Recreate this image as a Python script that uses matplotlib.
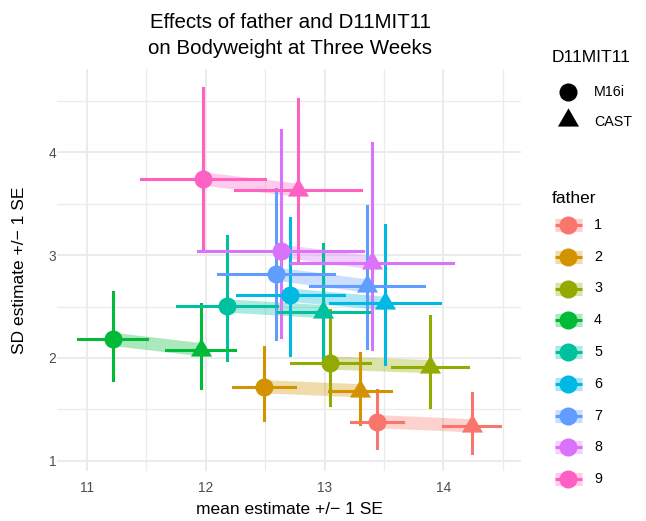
import numpy as np
import matplotlib
matplotlib.use('Agg')
import matplotlib.pyplot as plt

plt.rcParams['font.family'] = ['Liberation Sans', 'DejaVu Sans']

# data (one row per father)
fathers = ['1', '2', '3', '4', '5', '6', '7', '8', '9']
colors = ['#F8766D', '#D39200', '#93AA00', '#00BA38', '#00C19F',
          '#00B9E3', '#619CFF', '#DB72FB', '#FF61C3']

# D11MIT11 = M16i
mean_m16i = [13.44, 12.49, 13.05, 11.22, 12.18, 12.71, 12.59, 12.63, 11.98]
mean_m16i_se = [0.22, 0.26, 0.33, 0.29, 0.42, 0.45, 0.49, 0.69, 0.52]
sd_m16i = [1.38, 1.72, 1.95, 2.18, 2.505, 2.61, 2.815, 3.04, 3.74]
sd_m16i_lo = [1.12, 1.40, 1.54, 1.79, 1.98, 2.03, 2.18, 2.20, 3.04]
sd_m16i_hi = [1.69, 2.11, 2.47, 2.64, 3.19, 3.36, 3.64, 4.22, 4.63]

# D11MIT11 = CAST
mean_cast = [14.24, 13.30, 13.89, 11.96, 12.99, 13.51, 13.355, 13.40, 12.78]
mean_cast_se = [0.24, 0.26, 0.32, 0.29, 0.38, 0.46, 0.48, 0.68, 0.53]
sd_cast = [1.34, 1.68, 1.915, 2.08, 2.45, 2.53, 2.70, 2.925, 3.63]
sd_cast_lo = [1.08, 1.36, 1.52, 1.71, 1.93, 1.94, 2.10, 2.09, 2.93]
sd_cast_hi = [1.66, 2.05, 2.41, 2.52, 3.11, 3.29, 3.48, 4.09, 4.52]

W, H = 646, 521
fig = plt.figure(figsize=(W / 100, H / 100), dpi=100)
ax = fig.add_axes([57.0 / W, 1 - 470.5 / H, 463.7 / W, 401.5 / H])

# triangle centred like ggplot's shape 17
tri = [(0, 2 / 3), (-1 / np.sqrt(3), -1 / 3), (1 / np.sqrt(3), -1 / 3)]

# shaded band joining the two genotypes
for i in range(len(fathers)):
    ax.plot([mean_m16i[i], mean_cast[i]], [sd_m16i[i], sd_cast[i]],
            color=colors[i], alpha=0.33, lw=9.5, solid_capstyle='butt', zorder=2)

lw = 2.2
for i in range(len(fathers)):
    c = colors[i]
    ax.plot([mean_m16i[i], mean_m16i[i]], [sd_m16i_lo[i], sd_m16i_hi[i]], color=c, lw=lw, zorder=3)
    ax.plot([mean_cast[i], mean_cast[i]], [sd_cast_lo[i], sd_cast_hi[i]], color=c, lw=lw, zorder=3)
for i in range(len(fathers)):
    c = colors[i]
    ax.plot([mean_m16i[i] - mean_m16i_se[i], mean_m16i[i] + mean_m16i_se[i]],
            [sd_m16i[i], sd_m16i[i]], color=c, lw=lw, zorder=4)
    ax.plot([mean_cast[i] - mean_cast_se[i], mean_cast[i] + mean_cast_se[i]],
            [sd_cast[i], sd_cast[i]], color=c, lw=lw, zorder=4)
for i in range(len(fathers)):
    ax.plot(mean_m16i[i], sd_m16i[i], marker='o', ms=13, mew=0, color=colors[i], zorder=5)
    ax.plot(mean_cast[i], sd_cast[i], marker=tri, ms=17.5, mew=0, color=colors[i], zorder=5)

ax.set_xlim(10.75, 14.65)
ax.set_ylim(0.905, 4.81)
ax.set_xticks([11, 12, 13, 14])
ax.set_xticks([11.5, 12.5, 13.5, 14.5], minor=True)
ax.set_yticks([1, 2, 3, 4])
ax.set_yticks([1.5, 2.5, 3.5, 4.5], minor=True)
ax.grid(which='major', color='#EBEBEB', lw=1.4, zorder=0)
ax.grid(which='minor', color='#EBEBEB', lw=0.9, zorder=0)
ax.set_axisbelow(True)
for s in ax.spines.values():
    s.set_visible(False)
ax.tick_params(which='both', length=0, labelsize=9.9, labelcolor='#4D4D4D')
ax.tick_params(axis='x', pad=7.5)
ax.tick_params(axis='y', pad=0.5)

# titles and legend, laid out in pixel coordinates
lax = fig.add_axes([0, 0, 1, 1], zorder=10)
lax.set_xlim(0, W)
lax.set_ylim(H, 0)
lax.axis('off')

lax.text(290, 28, 'Effects of father and D11MIT11', ha='center', va='baseline', fontsize=14.8)
lax.text(290, 53.5, 'on Bodyweight at Three Weeks', ha='center', va='baseline', fontsize=14.8)
lax.text(289, 514, 'mean estimate +/\u2212 1 SE', ha='center', va='baseline', fontsize=12.5)
lax.text(20, 270, 'SD estimate +/\u2212 1 SE', ha='center', va='center', rotation=90, fontsize=12.5)

lax.text(552, 61.5, 'D11MIT11', ha='left', va='baseline', fontsize=12.5)
lax.plot(568, 91.7, marker='o', ms=13, mew=0, color='black')
lax.text(594, 96.5, 'M16i', ha='left', va='baseline', fontsize=10.3)
lax.plot(568, 120, marker=tri, ms=17.5, mew=0, color='black')
lax.text(594, 126.5, 'CAST', ha='left', va='baseline', fontsize=10.3)

lax.text(552, 203, 'father', ha='left', va='baseline', fontsize=12.5)
for i, f in enumerate(fathers):
    ky = 225 + 31.75 * i
    lax.plot([555, 582], [ky, ky], color=colors[i], alpha=0.33, lw=9.5, solid_capstyle='butt')
    lax.plot([555, 582], [ky, ky], color=colors[i], lw=2.2, solid_capstyle='butt')
    lax.plot(568, ky, marker='o', ms=13, mew=0, color=colors[i])
    lax.text(594, ky, f, ha='left', va='center', fontsize=10.3)

fig.savefig('out.png', dpi=100)
